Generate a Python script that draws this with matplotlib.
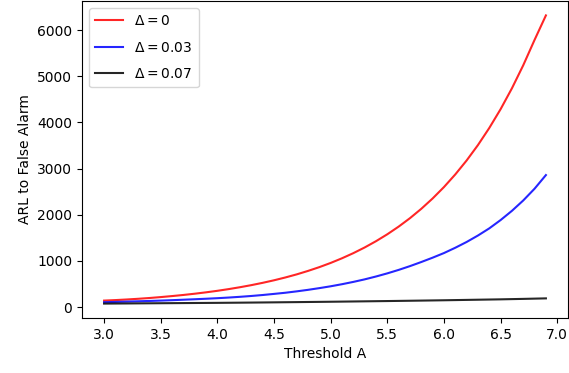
import matplotlib
matplotlib.use("Agg")
import matplotlib.pyplot as plt
import numpy as np

thresholds = [3.0, 3.1, 3.2, 3.3, 3.4, 3.5, 3.6, 3.7, 3.8, 3.9,
              4.0, 4.1, 4.2, 4.3, 4.4, 4.5, 4.6, 4.7, 4.8, 4.9,
              5.0, 5.1, 5.2, 5.3, 5.4, 5.5, 5.6, 5.7, 5.8, 5.9,
              6.0, 6.1, 6.2, 6.3, 6.4, 6.5, 6.6, 6.7, 6.8, 6.9]

arl_delta_0 = [140, 151, 164, 179, 196, 216, 238, 262, 289, 319,
               352, 389, 430, 475, 525, 580, 641, 708, 783, 865,
               956, 1057, 1168, 1291, 1427, 1577, 1743, 1926, 2129, 2353,
               2600, 2874, 3176, 3510, 3880, 4288, 4740, 5240, 5790, 6320]

arl_delta_003 = [105, 111, 118, 125, 132, 140, 149, 159, 169, 180,
                 192, 206, 222, 240, 261, 285, 310, 340, 373, 410,
                 450, 495, 545, 600, 662, 730, 805, 887, 976, 1070,
                 1170, 1285, 1410, 1550, 1705, 1885, 2085, 2310, 2565, 2860]

arl_delta_007 = [75, 76.5, 78, 79.8, 81.4, 83, 84.6, 86.2, 87.8, 89.4,
                 91, 93, 95, 97.2, 99.5, 102, 104.5, 107, 109.7, 112.3,
                 115, 118, 121, 124, 127, 130, 133.3, 136.6, 140, 143.5,
                 147, 151, 155, 159, 163, 167, 172, 177, 182.5, 188]

labels = [r"$\Delta=0$", r"$\Delta=0.03$", r"$\Delta=0.07$"]

fig = plt.figure(figsize=(5.69, 3.73), dpi=100)
ax = fig.add_axes([82 / 569, (373 - 318) / 373, (568 - 82) / 569, (318 - 1) / 373])

ax.plot(thresholds, arl_delta_0, color="red", alpha=0.85, label=labels[0])
ax.plot(thresholds, arl_delta_003, color="blue", alpha=0.85, label=labels[1])
ax.plot(thresholds, arl_delta_007, color="black", alpha=0.85, label=labels[2])

ax.set_xlabel("Threshold A")
ax.set_ylabel("ARL to False Alarm")
ax.legend(loc="upper left", labelspacing=0.9, borderpad=0.45)

fig.savefig("out.png", dpi=100)
